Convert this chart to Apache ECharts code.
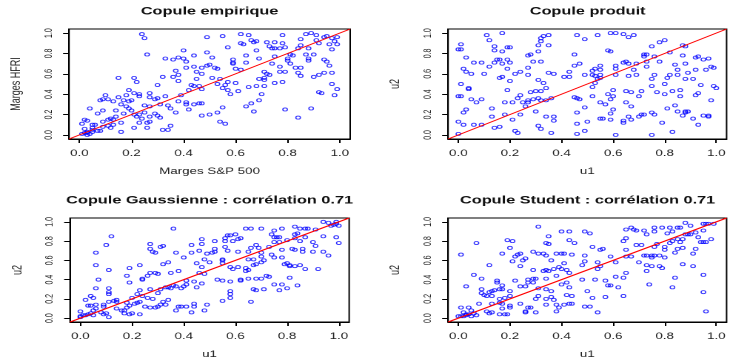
<!DOCTYPE html>
<html><head><meta charset="utf-8">
<script src="https://cdn.jsdelivr.net/npm/echarts@6/dist/echarts.min.js"></script>
<style>
html,body{margin:0;padding:0;background:#fff;overflow:hidden;width:730px;height:360px}
#wrap{width:730px;height:360px;overflow:hidden;position:relative}
#chart{width:493px;height:360px;transform:scaleX(1.4807);transform-origin:0 0}
</style></head><body><div id="wrap"><div id="chart"></div></div>
<script>
const tickValues = [0, 0.2, 0.4, 0.6, 0.8, 1.0];
const titles = ['Copule empirique', 'Copule produit', 'Copule Gaussienne : corrélation 0.71', 'Copule Student : corrélation 0.71'];
const xNames = ['Marges S&P 500', 'u1', 'u1', 'u1'];
const yNames = ['Marges HFRI', 'u2', 'u2', 'u2'];
const diagonal = [[-0.04, -0.04], [1.04, 1.04]];

const empirique = [
[0.24,0.99],[0.25,0.95],[0.26,0.79],[0.40,0.83],[0.33,0.75],[0.36,0.74],[0.38,0.76],[0.40,0.75],[0.41,0.72],[0.44,0.78],
[0.41,0.66],[0.44,0.67],[0.37,0.63],[0.45,0.62],[0.38,0.59],[0.36,0.57],[0.32,0.57],[0.38,0.53],[0.45,0.55],[0.15,0.56],
[0.21,0.56],[0.22,0.52],[0.30,0.49],[0.43,0.49],[0.44,0.48],[0.46,0.48],[0.42,0.44],[0.19,0.44],[0.21,0.41],[0.23,0.40],
[0.18,0.39],[0.23,0.38],[0.27,0.41],[0.27,0.37],[0.29,0.35],[0.30,0.36],[0.33,0.38],[0.10,0.39],[0.09,0.35],[0.08,0.34],
[0.11,0.35],[0.13,0.33],[0.15,0.37],[0.17,0.34],[0.19,0.33],[0.20,0.34],[0.16,0.30],[0.18,0.28],[0.19,0.26],[0.25,0.29],
[0.27,0.28],[0.31,0.30],[0.34,0.29],[0.35,0.26],[0.39,0.39],[0.41,0.32],[0.38,0.33],[0.41,0.30],[0.42,0.25],[0.37,0.22],
[0.04,0.26],[0.09,0.24],[0.07,0.21],[0.14,0.24],[0.17,0.21],[0.20,0.24],[0.21,0.20],[0.22,0.18],[0.23,0.20],[0.25,0.22],
[0.27,0.18],[0.29,0.21],[0.30,0.19],[0.31,0.17],[0.24,0.16],[0.27,0.13],[0.23,0.12],[0.26,0.12],[0.02,0.15],[0.03,0.14],
[0.01,0.11],[0.05,0.10],[0.06,0.10],[0.05,0.07],[0.09,0.13],[0.11,0.15],[0.12,0.16],[0.14,0.18],[0.13,0.15],[0.08,0.04],
[0.09,0.08],[0.11,0.09],[0.12,0.07],[0.13,0.10],[0.16,0.12],[0.16,0.03],[0.26,0.07],[0.21,0.07],[0.32,0.05],[0.34,0.05],
[0.35,0.09],[0.02,0.06],[0.03,0.03],[0.01,0.01],[0.02,0.02],[0.03,0.02],[0.05,0.03],[0.05,0.05],[0.07,0.04],[0.03,0.00],
[0.04,0.01],[0.44,0.30],[0.46,0.31],
[0.49,0.96],[0.55,0.97],[0.62,0.99],[0.65,0.98],[0.66,0.93],[0.78,0.98],[0.67,0.91],[0.68,0.92],[0.62,0.90],[0.63,0.89],
[0.57,0.86],[0.72,0.91],[0.73,0.87],[0.74,0.85],[0.75,0.85],[0.77,0.85],[0.75,0.91],[0.78,0.90],[0.79,0.86],[0.85,0.94],
[0.87,0.99],[0.89,1.00],[0.91,0.98],[0.91,0.93],[0.94,0.96],[0.95,0.97],[0.97,0.95],[0.99,0.96],[0.98,0.92],[0.92,0.90],
[0.96,0.89],[0.85,0.88],[0.84,0.85],[0.88,0.85],[0.99,0.89],[0.97,0.84],[0.49,0.81],[0.51,0.76],[0.68,0.83],[0.64,0.78],
[0.69,0.75],[0.75,0.77],[0.81,0.79],[0.80,0.75],[0.82,0.78],[0.90,0.79],[0.87,0.79],[0.88,0.75],[0.88,0.73],[0.94,0.74],
[0.95,0.72],[0.96,0.68],[0.59,0.74],[0.59,0.71],[0.59,0.70],[0.49,0.68],[0.50,0.69],[0.52,0.66],[0.53,0.65],[0.47,0.66],
[0.60,0.65],[0.62,0.64],[0.64,0.71],[0.74,0.70],[0.77,0.67],[0.80,0.73],[0.81,0.70],[0.83,0.66],[0.85,0.66],[0.85,0.58],
[0.84,0.61],[0.71,0.62],[0.72,0.60],[0.73,0.59],[0.77,0.62],[0.79,0.62],[0.69,0.55],[0.71,0.56],[0.71,0.54],[0.75,0.51],
[0.78,0.52],[0.90,0.57],[0.92,0.59],[0.94,0.61],[0.97,0.61],[0.97,0.50],[0.99,0.45],[0.92,0.42],[0.93,0.41],[0.98,0.39],
[0.47,0.60],[0.51,0.56],[0.54,0.55],[0.56,0.49],[0.55,0.46],[0.57,0.44],[0.58,0.40],[0.60,0.51],[0.61,0.43],[0.57,0.52],
[0.65,0.47],[0.68,0.48],[0.71,0.48],[0.70,0.40],[0.69,0.34],[0.66,0.31],[0.64,0.28],[0.67,0.23],[0.79,0.25],[0.89,0.26],
[0.84,0.17],[0.47,0.45],[0.47,0.31],[0.47,0.19],[0.50,0.20],[0.53,0.22],[0.55,0.27],[0.54,0.13],[0.56,0.11],[0.53,0.50]
];

const produit = [
[0.17,1.00],[0.11,0.98],[0.12,0.93],[0.01,0.89],[0.00,0.84],[0.01,0.84],[0.14,0.87],[0.14,0.83],[0.17,0.82],[0.19,0.86],
[0.20,0.86],[0.03,0.76],[0.06,0.71],[0.09,0.71],[0.15,0.74],[0.16,0.74],[0.17,0.70],[0.19,0.74],[0.20,0.71],[0.12,0.67],
[0.02,0.65],[0.03,0.62],[0.05,0.60],[0.10,0.60],[0.14,0.71],[0.19,0.65],[0.22,0.60],[0.24,0.62],[0.27,0.59],[0.27,0.66],
[0.27,0.78],[0.28,0.79],[0.29,0.72],[0.16,0.56],[0.17,0.57],[0.20,0.53],[0.01,0.50],[0.04,0.46],[0.04,0.45],[0.19,0.44],
[0.00,0.38],[0.01,0.38],[0.05,0.35],[0.07,0.32],[0.09,0.35],[0.13,0.26],[0.18,0.32],[0.21,0.32],[0.23,0.36],[0.24,0.39],
[0.03,0.25],[0.02,0.22],[0.13,0.18],[0.18,0.20],[0.24,0.20],[0.21,0.15],[0.00,0.13],[0.02,0.10],[0.06,0.10],[0.09,0.10],
[0.14,0.07],[0.16,0.08],[0.00,0.01],[0.22,0.04],[0.23,0.02],[0.32,0.95],[0.33,0.97],[0.35,0.98],[0.32,0.92],[0.31,0.88],
[0.35,0.88],[0.31,0.82],[0.32,0.72],[0.35,0.61],[0.37,0.60],[0.31,0.54],[0.33,0.51],[0.34,0.46],[0.30,0.43],[0.28,0.42],
[0.32,0.43],[0.25,0.32],[0.27,0.34],[0.27,0.32],[0.29,0.35],[0.31,0.36],[0.32,0.34],[0.34,0.34],[0.36,0.36],[0.26,0.28],
[0.30,0.23],[0.34,0.18],[0.37,0.18],[0.37,0.14],[0.31,0.09],[0.32,0.06],[0.36,0.02],[0.45,0.79],[0.46,0.98],[0.45,0.68],
[0.43,0.62],[0.41,0.57],[0.43,0.57],[0.45,0.37],[0.46,0.36],[0.46,0.22],[0.46,0.11],[0.46,0.01],
[0.59,1.00],[0.61,1.00],[0.64,0.99],[0.66,0.96],[0.68,0.98],[0.54,0.98],[0.49,0.94],[0.78,0.91],[0.80,0.93],[0.75,0.87],
[0.87,0.88],[0.88,0.87],[0.58,0.83],[0.59,0.82],[0.72,0.79],[0.73,0.79],[0.72,0.77],[0.76,0.77],[0.82,0.81],[0.87,0.78],
[0.92,0.76],[0.93,0.77],[0.95,0.74],[0.97,0.75],[0.64,0.71],[0.65,0.72],[0.66,0.70],[0.69,0.70],[0.73,0.72],[0.78,0.72],
[0.47,0.70],[0.55,0.68],[0.53,0.65],[0.52,0.63],[0.55,0.64],[0.61,0.68],[0.61,0.65],[0.68,0.64],[0.73,0.67],[0.84,0.69],
[0.88,0.70],[0.85,0.64],[0.96,0.64],[0.98,0.67],[0.99,0.66],[0.92,0.64],[0.89,0.61],[0.49,0.59],[0.52,0.59],[0.53,0.58],
[0.55,0.59],[0.54,0.55],[0.55,0.56],[0.61,0.59],[0.66,0.58],[0.69,0.59],[0.76,0.59],[0.75,0.55],[0.82,0.59],[0.81,0.56],
[0.85,0.59],[0.88,0.55],[0.91,0.55],[0.52,0.47],[0.53,0.51],[0.75,0.48],[0.80,0.50],[0.77,0.42],[0.80,0.40],[0.83,0.43],
[0.86,0.44],[0.86,0.38],[0.94,0.49],[0.99,0.48],[1.00,0.46],[0.60,0.44],[0.58,0.40],[0.60,0.38],[0.59,0.35],[0.65,0.43],
[0.67,0.42],[0.71,0.43],[0.70,0.38],[0.52,0.38],[0.92,0.39],[0.93,0.41],[0.98,0.34],[0.55,0.32],[0.57,0.30],[0.49,0.27],
[0.65,0.32],[0.67,0.28],[0.60,0.25],[0.59,0.21],[0.84,0.29],[0.81,0.26],[0.85,0.23],[0.88,0.23],[0.88,0.22],[0.89,0.23],
[0.71,0.20],[0.72,0.20],[0.70,0.18],[0.75,0.22],[0.76,0.20],[0.66,0.18],[0.67,0.15],[0.55,0.16],[0.56,0.16],[0.59,0.15],
[0.64,0.14],[0.64,0.12],[0.50,0.13],[0.49,0.04],[0.79,0.12],[0.87,0.19],[0.91,0.16],[0.93,0.10],[0.95,0.19],[0.97,0.18],
[0.97,0.19],[0.61,0.00],[0.75,0.00],[0.83,0.03],[0.47,0.35]
];

const gaussienne = [
[0.36,0.93],[0.12,0.85],[0.10,0.76],[0.06,0.68],[0.06,0.55],[0.11,0.50],[0.07,0.40],[0.06,0.31],[0.11,0.31],[0.11,0.27],
[0.11,0.25],[0.04,0.23],[0.02,0.19],[0.05,0.21],[0.04,0.13],[0.06,0.14],[0.03,0.13],[0.06,0.10],[0.05,0.08],[0.00,0.07],
[0.00,0.01],[0.00,0.02],[0.01,0.03],[0.02,0.03],[0.03,0.04],[0.04,0.05],[0.05,0.03],[0.09,0.14],[0.09,0.12],[0.11,0.17],
[0.13,0.18],[0.14,0.19],[0.14,0.17],[0.08,0.06],[0.09,0.04],[0.11,0.01],[0.10,0.05],[0.14,0.10],[0.16,0.08],[0.17,0.08],
[0.17,0.05],[0.19,0.04],[0.20,0.05],[0.23,0.04],[0.18,0.11],[0.19,0.13],[0.18,0.16],[0.21,0.15],[0.22,0.16],[0.23,0.17],
[0.20,0.21],[0.22,0.25],[0.23,0.29],[0.24,0.23],[0.26,0.21],[0.28,0.20],[0.30,0.26],[0.25,0.12],[0.27,0.11],[0.29,0.11],
[0.30,0.12],[0.31,0.14],[0.32,0.17],[0.34,0.19],[0.33,0.14],[0.37,0.08],[0.38,0.12],[0.39,0.12],[0.41,0.12],[0.44,0.12],
[0.43,0.06],[0.44,0.15],[0.18,0.44],[0.19,0.37],[0.19,0.52],[0.23,0.55],[0.24,0.40],[0.24,0.41],[0.26,0.44],[0.27,0.47],
[0.29,0.47],[0.30,0.46],[0.27,0.30],[0.31,0.30],[0.33,0.32],[0.34,0.32],[0.35,0.31],[0.36,0.34],[0.37,0.33],[0.39,0.31],
[0.40,0.33],[0.41,0.35],[0.41,0.39],[0.44,0.38],[0.45,0.32],[0.35,0.47],[0.38,0.49],[0.32,0.56],[0.34,0.58],[0.27,0.77],
[0.27,0.72],[0.28,0.69],[0.29,0.68],[0.31,0.74],[0.32,0.75],[0.37,0.68],[0.40,0.63],[0.43,0.76],[0.43,0.68],[0.46,0.70],
[0.45,0.57],[0.46,0.47],
[0.47,0.82],[0.52,0.80],[0.57,0.86],[0.56,0.83],[0.58,0.86],[0.60,0.87],[0.56,0.80],[0.59,0.80],[0.61,0.82],[0.62,0.83],
[0.64,0.93],[0.66,0.93],[0.70,0.93],[0.75,0.91],[0.78,0.93],[0.83,0.95],[0.85,0.93],[0.87,0.93],[0.88,0.93],[0.91,0.92],
[0.94,1.00],[0.96,0.99],[0.98,0.97],[0.99,0.98],[0.99,1.00],[0.97,0.96],[1.00,0.96],[0.74,0.87],[0.75,0.84],[0.76,0.84],
[0.77,0.84],[0.75,0.79],[0.77,0.79],[0.83,0.87],[0.84,0.88],[0.83,0.83],[0.80,0.81],[0.87,0.84],[0.85,0.80],[0.90,0.79],
[0.94,0.85],[0.99,0.84],[1.00,0.78],[0.91,0.75],[0.68,0.76],[0.66,0.73],[0.69,0.73],[0.73,0.74],[0.78,0.71],[0.82,0.72],
[0.83,0.71],[0.86,0.72],[0.86,0.69],[0.90,0.69],[0.94,0.69],[0.96,0.65],[0.47,0.77],[0.52,0.72],[0.52,0.69],[0.51,0.68],
[0.49,0.67],[0.48,0.61],[0.56,0.74],[0.57,0.70],[0.61,0.69],[0.65,0.69],[0.70,0.68],[0.70,0.64],[0.74,0.66],[0.75,0.63],
[0.78,0.63],[0.55,0.61],[0.55,0.60],[0.55,0.57],[0.50,0.58],[0.47,0.53],[0.65,0.61],[0.67,0.61],[0.68,0.56],[0.67,0.55],
[0.71,0.60],[0.70,0.58],[0.58,0.53],[0.59,0.51],[0.61,0.53],[0.64,0.52],[0.65,0.50],[0.64,0.49],[0.79,0.56],[0.80,0.57],
[0.81,0.55],[0.81,0.54],[0.83,0.54],[0.85,0.55],[0.87,0.51],[0.92,0.51],[0.81,0.42],[0.48,0.46],[0.53,0.40],[0.55,0.39],
[0.58,0.38],[0.62,0.40],[0.62,0.39],[0.65,0.41],[0.68,0.41],[0.70,0.41],[0.72,0.44],[0.73,0.43],[0.75,0.35],[0.78,0.35],
[0.77,0.29],[0.80,0.31],[0.84,0.34],[0.67,0.30],[0.68,0.29],[0.71,0.30],[0.58,0.28],[0.58,0.25],[0.58,0.21],[0.55,0.18],
[0.66,0.17],[0.49,0.14],[0.48,0.08],[0.47,0.36]
];

const student = [
[0.31,0.95],[0.07,0.78],[0.01,0.66],[0.19,0.81],[0.21,0.80],[0.20,0.73],[0.17,0.67],[0.22,0.64],[0.21,0.59],[0.23,0.66],
[0.24,0.67],[0.25,0.60],[0.24,0.54],[0.12,0.55],[0.29,0.69],[0.26,0.62],[0.31,0.67],[0.33,0.67],[0.34,0.65],[0.35,0.85],
[0.34,0.78],[0.35,0.77],[0.40,0.90],[0.43,0.90],[0.43,0.81],[0.45,0.78],[0.38,0.67],[0.40,0.67],[0.41,0.67],[0.44,0.66],
[0.36,0.60],[0.41,0.57],[0.33,0.49],[0.34,0.50],[0.35,0.49],[0.37,0.51],[0.39,0.53],[0.40,0.51],[0.42,0.50],[0.43,0.47],
[0.29,0.50],[0.06,0.45],[0.09,0.41],[0.03,0.33],[0.15,0.39],[0.15,0.37],[0.22,0.39],[0.27,0.40],[0.29,0.41],[0.30,0.41],
[0.27,0.37],[0.29,0.37],[0.34,0.41],[0.38,0.44],[0.40,0.35],[0.42,0.37],[0.43,0.32],[0.09,0.30],[0.09,0.26],[0.12,0.27],
[0.13,0.28],[0.14,0.29],[0.16,0.30],[0.17,0.34],[0.17,0.30],[0.20,0.28],[0.24,0.33],[0.26,0.33],[0.31,0.31],[0.34,0.30],
[0.36,0.28],[0.10,0.24],[0.11,0.23],[0.13,0.23],[0.16,0.20],[0.18,0.21],[0.20,0.23],[0.31,0.23],[0.36,0.22],[0.42,0.24],
[0.44,0.23],[0.30,0.20],[0.34,0.20],[0.37,0.19],[0.08,0.15],[0.13,0.15],[0.16,0.16],[0.17,0.15],[0.20,0.13],[0.24,0.15],
[0.27,0.11],[0.34,0.14],[0.38,0.14],[0.39,0.11],[0.41,0.14],[0.43,0.15],[0.44,0.15],[0.01,0.11],[0.04,0.11],[0.02,0.06],
[0.05,0.08],[0.07,0.03],[0.11,0.07],[0.12,0.05],[0.13,0.06],[0.16,0.04],[0.18,0.04],[0.19,0.04],[0.17,0.10],[0.20,0.11],
[0.26,0.07],[0.26,0.06],[0.28,0.11],[0.30,0.06],[0.38,0.07],[0.00,0.02],[0.01,0.02],[0.02,0.02],[0.03,0.03],[0.03,0.04],
[0.04,0.04],[0.05,0.02],[0.06,0.05],
[0.88,0.99],[0.90,0.96],[0.95,0.98],[0.96,0.98],[0.97,0.98],[0.99,0.98],[0.49,0.90],[0.51,0.88],[0.65,0.92],[0.67,0.94],
[0.68,0.92],[0.69,0.91],[0.72,0.91],[0.76,0.94],[0.76,0.90],[0.79,0.94],[0.82,0.94],[0.85,0.94],[0.86,0.94],[0.73,0.87],
[0.81,0.88],[0.83,0.90],[0.88,0.87],[0.89,0.87],[0.90,0.87],[0.92,0.89],[0.95,0.91],[0.93,0.84],[0.98,0.82],[0.94,0.79],
[0.95,0.79],[0.96,0.79],[0.65,0.83],[0.64,0.80],[0.69,0.76],[0.71,0.76],[0.77,0.77],[0.76,0.74],[0.80,0.74],[0.82,0.78],
[0.83,0.80],[0.85,0.82],[0.86,0.79],[0.87,0.82],[0.87,0.73],[0.85,0.72],[0.84,0.68],[0.92,0.72],[0.91,0.67],[0.52,0.74],
[0.55,0.71],[0.56,0.72],[0.65,0.71],[0.80,0.71],[0.49,0.65],[0.59,0.64],[0.65,0.64],[0.67,0.64],[0.72,0.65],[0.73,0.65],
[0.75,0.65],[0.76,0.65],[0.78,0.65],[0.75,0.63],[0.80,0.63],[0.49,0.59],[0.54,0.58],[0.61,0.58],[0.70,0.58],[0.48,0.55],
[0.55,0.54],[0.73,0.55],[0.75,0.54],[0.78,0.54],[0.79,0.52],[0.87,0.56],[0.91,0.54],[0.54,0.51],[0.73,0.49],[0.65,0.47],
[0.95,0.45],[0.48,0.40],[0.53,0.40],[0.57,0.39],[0.61,0.43],[0.64,0.42],[0.84,0.42],[0.58,0.34],[0.59,0.34],[0.62,0.32],
[0.74,0.35],[0.83,0.32],[0.50,0.28],[0.95,0.27],[0.52,0.21],[0.57,0.22],[0.64,0.23],[0.49,0.12],[0.51,0.12],[0.54,0.06],
[0.96,0.07]
];

const panels = [empirique, produit, gaussienne, student];

// layout in un-stretched (pre-scaleX) pixel space
const grids = [
  {left: 46.6, top: 29, width: 189.9, height: 110},
  {left: 302.6, top: 29, width: 188.5, height: 110},
  {left: 47.3, top: 218, width: 188.5, height: 109},
  {left: 302.6, top: 218, width: 188.5, height: 109}
];
const titleTops = [6, 6, 195, 195];

const fontFam = '"Liberation Sans", Arial, Helvetica, sans-serif';
const fmt = v => v.toFixed(1);

const option = {
  animation: false,
  backgroundColor: '#fff',
  title: titles.map((t, i) => ({
    text: t,
    left: grids[i].left + grids[i].width / 2,
    top: titleTops[i],
    textAlign: 'center',
    padding: 0,
    textStyle: {fontFamily: fontFam, fontSize: 11, fontWeight: 'bold', color: '#111'}
  })),
  grid: grids.map(g => Object.assign({show: true, borderColor: '#000', borderWidth: 1, backgroundColor: 'transparent'}, g)),
  xAxis: grids.map((g, i) => ({
    type: 'value', gridIndex: i, min: -0.04, max: 1.04,
    name: xNames[i], nameLocation: 'middle', nameGap: 28,
    nameTextStyle: {fontFamily: fontFam, fontSize: 9, color: '#222'},
    axisLine: {show: true, onZero: false, lineStyle: {color: '#000', width: 1}},
    axisTick: {show: true, length: 4, customValues: tickValues, lineStyle: {color: '#000'}},
    axisLabel: {show: true, customValues: tickValues, formatter: fmt, margin: 10,
      fontFamily: fontFam, fontSize: 9, color: '#222'},
    splitLine: {show: false}
  })),
  yAxis: grids.map((g, i) => ({
    type: 'value', gridIndex: i, min: -0.04, max: 1.04,
    name: yNames[i], nameLocation: 'middle', nameGap: 31,
    nameTextStyle: {fontFamily: fontFam, fontSize: 9, color: '#222'},
    axisLine: {show: true, onZero: false, lineStyle: {color: '#000', width: 1}},
    axisTick: {show: true, length: 4, customValues: tickValues, lineStyle: {color: '#000'}},
    axisLabel: {show: true, customValues: tickValues, formatter: fmt, rotate: 90, margin: 10,
      fontFamily: fontFam, fontSize: 7, color: '#222'},
    splitLine: {show: false}
  })),
  series: []
};

panels.forEach((pts, i) => {
  option.series.push({
    type: 'scatter', xAxisIndex: i, yAxisIndex: i, data: pts,
    symbol: 'circle', symbolSize: 3.1,
    itemStyle: {color: 'rgba(0,0,0,0)', borderColor: '#0000ff', borderWidth: 0.8},
    emphasis: {disabled: true}, silent: true
  });
  option.series.push({
    type: 'line', xAxisIndex: i, yAxisIndex: i, data: diagonal,
    showSymbol: false, lineStyle: {color: '#ff0000', width: 1},
    emphasis: {disabled: true}, silent: true, clip: true
  });
});

const chart = echarts.init(document.getElementById('chart'), null, {devicePixelRatio: 2});
chart.setOption(option);
</script>
</body></html>
